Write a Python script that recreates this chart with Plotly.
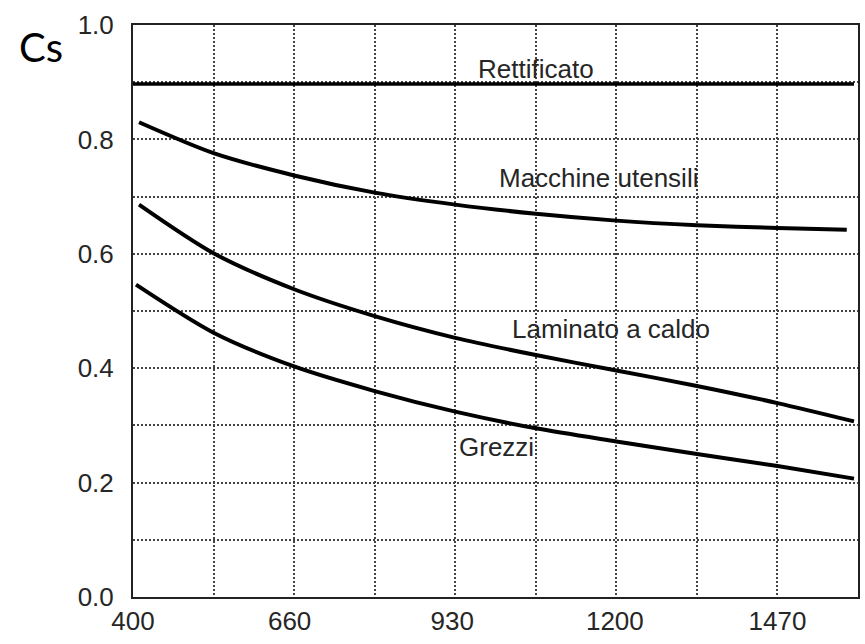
import plotly.graph_objects as go

# Resistenza a trazione (MPa) e coefficiente di superficie Cs
x_tick_values = [400, 660, 930, 1200, 1470]
x_tick_labels = ["400", "660", "930", "1200", "1470"]
y_tick_values = [0.0, 0.2, 0.4, 0.6, 0.8, 1.0]
y_tick_labels = ["0.0", "0.2", "0.4", "0.6", "0.8", "1.0"]

rett_x = [400, 1597]
rett_y = [0.897, 0.897]

macch_x = [410, 533.75, 667.5, 801.25, 935, 1068.75, 1202.5, 1336.25, 1470, 1585]
macch_y = [0.830, 0.776, 0.737, 0.707, 0.686, 0.670, 0.658, 0.650, 0.645, 0.642]

lamin_x = [410, 533.75, 667.5, 801.25, 935, 1068.75, 1202.5, 1336.25, 1470, 1597]
lamin_y = [0.686, 0.601, 0.538, 0.491, 0.453, 0.423, 0.396, 0.369, 0.339, 0.307]

grez_x = [405, 533.75, 667.5, 801.25, 935, 1068.75, 1202.5, 1336.25, 1470, 1597]
grez_y = [0.546, 0.462, 0.403, 0.360, 0.324, 0.295, 0.272, 0.250, 0.229, 0.207]

labels = ["Rettificato", "Macchine utensili", "Laminato a caldo", "Grezzi"]
label_x = [1069, 1172, 1193, 1004]
label_y = [0.923, 0.733, 0.469, 0.262]

fig = go.Figure()
for xs, ys, w in [(rett_x, rett_y, 3.5), (macch_x, macch_y, 4),
                  (lamin_x, lamin_y, 4), (grez_x, grez_y, 4)]:
    fig.add_trace(go.Scatter(x=xs, y=ys, mode="lines",
                             line=dict(color="black", width=w, shape="spline", smoothing=0.8),
                             showlegend=False, hoverinfo="skip"))

for t, lx, ly in zip(labels, label_x, label_y):
    fig.add_annotation(x=lx, y=ly, text=t, showarrow=False, xanchor="center", yanchor="middle",
                       font=dict(family="Liberation Sans, Arial", size=26, color="#262626"))

fig.add_annotation(xref="paper", yref="paper", x=-0.1265, y=0.9615, text="Cs", showarrow=False,
                   xanchor="center", yanchor="middle",
                   font=dict(family="Lato, Open Sans", size=40, color="black"))

grid_dash = "2px,2px"
grid_color = "#444444"
fig.update_xaxes(range=[400, 1603.66], tickmode="array", tickvals=x_tick_values, ticktext=x_tick_labels,
                 showgrid=False, ticks="", showline=True, mirror=True, linewidth=2, linecolor="#222222",
                 zeroline=False,
                 tickfont=dict(family="Liberation Sans, Arial", size=26, color="#262626"),
                 minor=dict(tick0=400, dtick=133.74, showgrid=True, gridcolor=grid_color,
                            gridwidth=1.5, griddash=grid_dash, ticks=""))
fig.update_yaxes(range=[0, 1], tickmode="array", tickvals=y_tick_values, ticktext=y_tick_labels,
                 showgrid=True, gridcolor=grid_color, gridwidth=1.5, griddash=grid_dash,
                 ticks="", showline=True, mirror=True, linewidth=2, linecolor="#222222",
                 zeroline=False, ticklabelstandoff=12,
                 tickfont=dict(family="Liberation Sans, Arial", size=26, color="#262626"),
                 minor=dict(tick0=0, dtick=0.1, showgrid=True, gridcolor=grid_color,
                            gridwidth=1.5, griddash=grid_dash, ticks=""))

fig.update_layout(width=865, height=644, margin=dict(l=133, r=5, t=25, b=47),
                  plot_bgcolor="white", paper_bgcolor="white")

fig.write_html("out.html")
